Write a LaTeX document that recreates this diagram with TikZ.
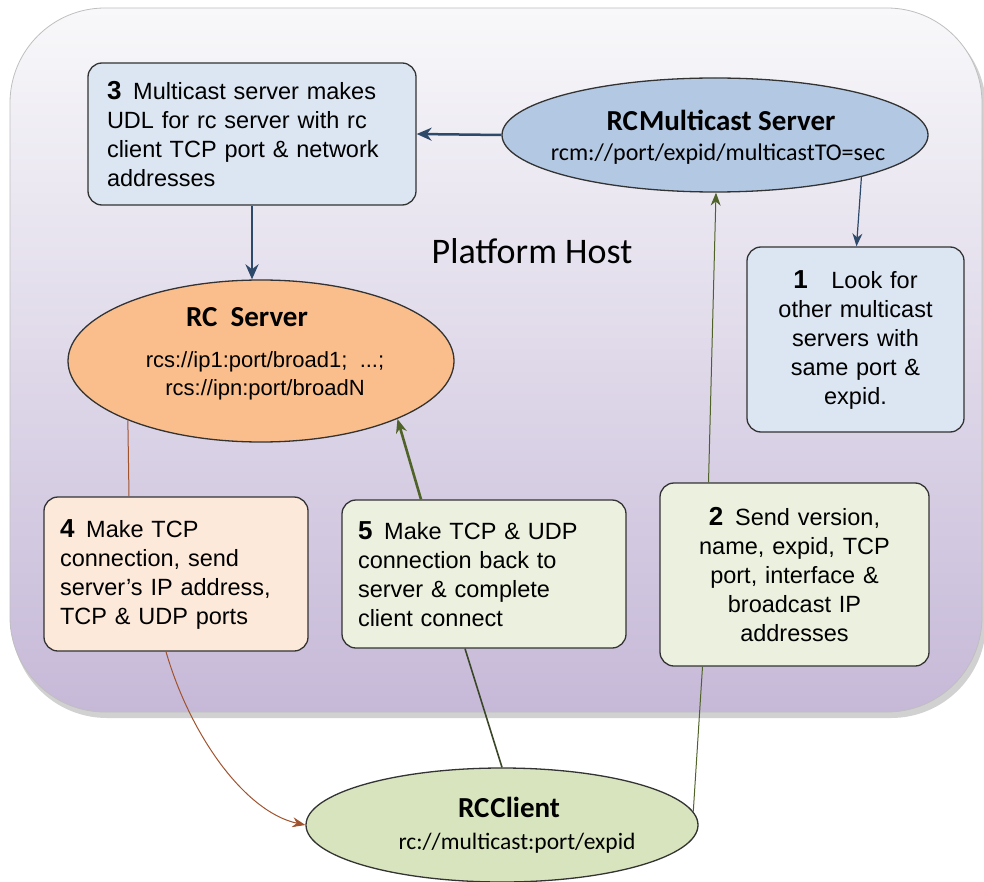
\documentclass[tikz,border=0pt]{standalone}
\usepackage{fontspec}
\setmainfont{Liberation Sans}
\newfontfamily\calfont{Carlito}
\usetikzlibrary{shapes.geometric,arrows.meta,calc}
\definecolor{hosttop}{HTML}{F8F8FA}
\definecolor{hostbot}{HTML}{C6B9D8}
\definecolor{bluebox}{HTML}{DCE6F2}
\definecolor{blueell}{HTML}{B3C8E2}
\definecolor{orangeell}{HTML}{F9BE8C}
\definecolor{peachbox}{HTML}{FDE9D9}
\definecolor{greenbox}{HTML}{EBF1DE}
\definecolor{greenell}{HTML}{D7E4BD}
\definecolor{navy}{HTML}{2E4A6B}
\definecolor{olive}{HTML}{4F6228}
\definecolor{brownln}{HTML}{A0522D}
\definecolor{darkgreen}{HTML}{3A4628}
\definecolor{edge}{HTML}{333333}
\begin{document}
\begin{tikzpicture}[x=1pt,y=-1pt,
  boxst/.style={draw=edge, line width=1.3pt, rounded corners=14pt, inner xsep=20pt, inner ysep=0pt,
    font=\fontsize{23.5}{29}\selectfont},
  ellst/.style={ellipse, draw=edge, line width=1.3pt, inner sep=0pt, align=center},
  titlef/.style={font=\calfont\bfseries\fontsize{29}{32}\selectfont},
  navyarrow/.style={draw=navy, line width=2.5pt, -{Stealth[length=15pt,width=13pt]}},
]
\newcommand{\bnum}[1]{{\bfseries\fontsize{26}{29}\selectfont #1}}
\useasboundingbox (0,0) rectangle (984,882);
% Platform host container
\fill[black, opacity=0.18, rounded corners=95pt] (12,13) rectangle (986,718);
\shade[top color=hosttop, bottom color=hostbot, rounded corners=95pt] (10,8) rectangle (982,712);
\draw[draw=black!25, line width=0.8pt, rounded corners=95pt] (10,8) rectangle (982,712);
\node[font=\calfont\fontsize{36}{40}\selectfont] (ph) at (532,251) {Platform Host};

% Boxes
\node[boxst, fill=bluebox, text width=290pt, inner xsep=19pt, minimum height=142pt, align=left] (b3) at (252,134)
  {\bnum{3}\enspace Multicast server makes\\ UDL for rc server with rc\\ client TCP port \& network\\ addresses};
\node[boxst, fill=bluebox, text width=201pt, inner xsep=8pt, minimum height=185pt, align=center] (b1) at (855.5,339.5)
  {\bnum{1}\quad Look for\\ other multicast\\ servers with\\ same port \&\\ expid.};
\node[boxst, fill=peachbox, text width=232pt, inner xsep=16pt, minimum height=154pt, align=left] (b4) at (176,574)
  {\bnum{4}\enspace Make TCP\\ connection, send\\ server's IP address,\\ TCP \& UDP ports};
\node[boxst, fill=greenbox, text width=252pt, inner xsep=16pt, minimum height=148pt, align=left] (b5) at (484,574)
  {\bnum{5}\enspace Make TCP \& UDP\\ connection back to\\ server \& complete\\ client connect};
\node[boxst, fill=greenbox, text width=253pt, inner xsep=8pt, minimum height=183pt, align=center] (b2) at (794.5,574.5)
  {\bnum{2}\enspace Send version,\\ name, expid, TCP\\ port, interface \&\\ broadcast IP\\ addresses};

% Ellipses
\node[ellst, fill=blueell, minimum width=426pt, minimum height=114pt] (mc) at (715,135) {};
\node[titlef] at (721,120) {RC\hspace{1pt}Multicast Server};
\node[font=\calfont\fontsize{24}{28}\selectfont] at (718,154) {rcm://port/expid/multicastTO=sec};

\node[ellst, fill=orangeell, minimum width=386pt, minimum height=162pt] (rs) at (261,361) {};
\node[titlef] at (247,317) {RC\ \ Server};
\node[font=\fontsize{22}{28}\selectfont, align=center] at (265,376) {rcs://ip1:port/broad1;\ \ ...;\\ rcs://ipn:port/broadN};

\node[ellst, fill=greenell, minimum width=392pt, minimum height=114pt] (cl) at (502,825) {};
\node[titlef] at (509,807) {RC\hspace{1pt}Client};
\node[font=\calfont\fontsize{23.5}{28}\selectfont] at (517,843) {rc://multicast:port/expid};

% Connectors
\draw[navyarrow] (mc.west) -- (b3.east);
\draw[navyarrow] (b3.south) -- (b3.south |- rs.north);
\draw[draw=navy, line width=1.2pt, -{Stealth[length=13pt,width=10pt]}] (mc.-16) -- ([xshift=1pt]b1.north);
\draw[draw=olive, line width=1pt, -{Stealth[length=13pt,width=10pt]}] ([xshift=-86pt]b2.north) -- ([xshift=1pt]mc.south);
\draw[draw=olive, line width=1pt] ([xshift=-92pt]b2.south) -- (cl.4);
\draw[draw=olive, line width=2.6pt, -{Stealth[length=14pt,width=11pt]}] ([xshift=-63pt]b5.north) -- (rs.-23);
\draw[draw=darkgreen, line width=1.6pt] ([xshift=-19pt]b5.south) -- (cl.north);
\draw[draw=brownln, line width=1pt] (rs.-156) -- ([xshift=-47pt]b4.north);
\draw[draw=brownln, line width=1pt, -{Stealth[length=13pt,width=10pt]}] ([xshift=-10pt]b4.south) .. controls (190,735) and (245,812) .. (cl.west);
\end{tikzpicture}
\end{document}
